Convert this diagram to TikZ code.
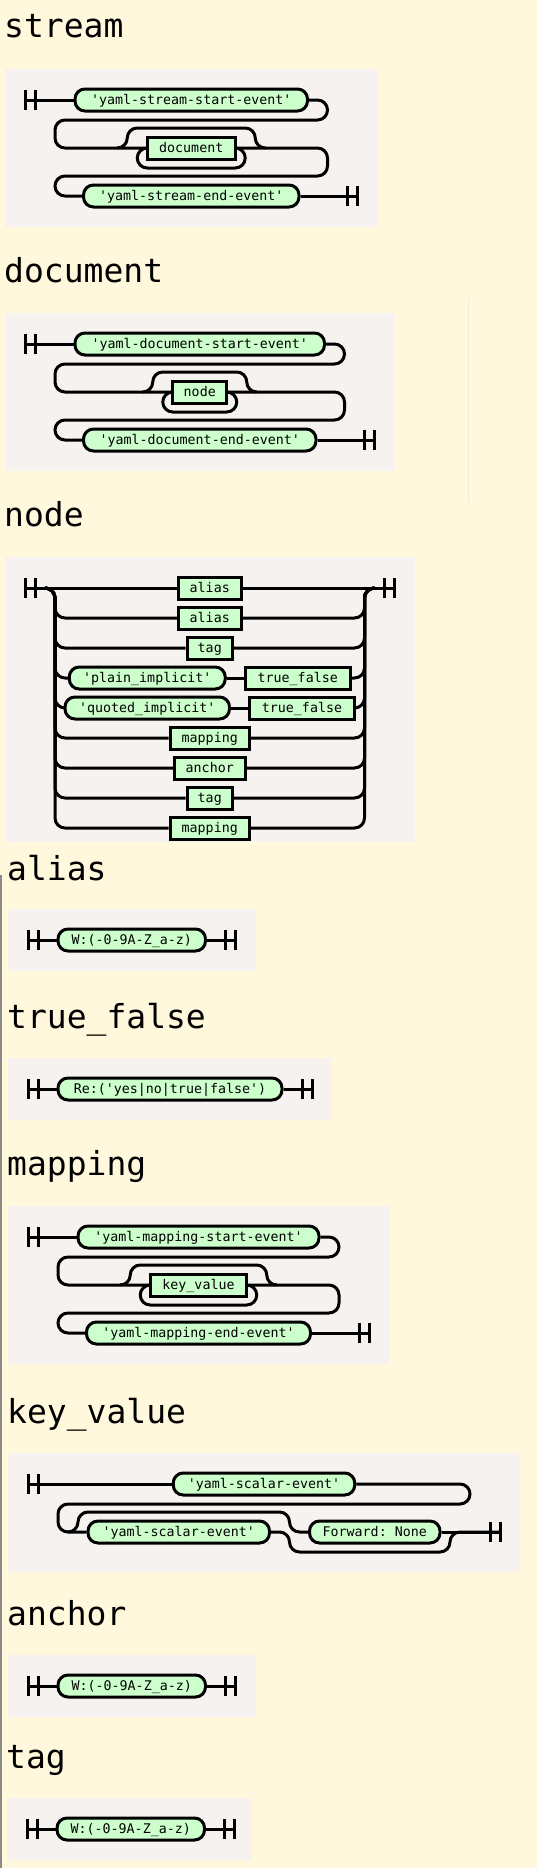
\documentclass[tikz,border=0pt]{standalone}
\usepackage{fontspec}
\setmonofont{DejaVu Sans Mono}
\definecolor{pagebg}{HTML}{FFF8DC}
\definecolor{panelbg}{HTML}{F5F2F0}
\definecolor{termfill}{HTML}{CCFFCC}
\definecolor{edgegray}{HTML}{8C8A84}
\definecolor{faintline}{HTML}{F2EAD2}
\newcommand\rrStart[1]{\draw[ln] (#1) ++(0,-10) -- ++(0,20) ++(10,-20) -- ++(0,20);}
\newcommand\rrEnd[1]{\draw[ln] (#1) ++(-10,-10) -- ++(0,20) ++(10,-20) -- ++(0,20);}
\begin{document}
\begin{tikzpicture}[x=1pt,y=-1pt,
  ln/.style={line width=3pt},
  rr/.style={line width=3pt, rounded corners=10pt},
  rrbox/.style={draw, line width=3pt, fill=termfill, minimum height=22pt, inner sep=0pt,
    text height=10pt, text depth=2pt, font=\ttfamily\fontsize{13.3}{14}\selectfont},
  term/.style={rrbox, rounded corners=10pt},
  nterm/.style={rrbox, sharp corners},
  ttl/.style={anchor=base west, inner sep=0pt, font=\ttfamily\fontsize{33}{36}\selectfont},
  pnl/.style={fill=panelbg}]
\useasboundingbox (0,0) rectangle (537,1868);
\fill[pagebg] (0,0) rectangle (537,1868);
\draw[edgegray, line width=1.5pt] (0.75,875) -- (0.75,1868);
\draw[faintline, line width=1pt] (468,298) -- (468,503);

% ---------------- stream
\fill[pnl] (5,69) rectangle (377.5,227);
\node[ttl] (t1) at (4,38) {stream};
\coordinate (s1) at (25,100);
\coordinate (e1) at (357.5,196);
\node[term, minimum width=232.5pt] (a1) at (191.25,100) {'yaml-stream-start-event'};
\node[nterm, minimum width=88pt] (a2) at (191.25,148) {document};
\node[term, minimum width=215.5pt] (a3) at (191.25,196) {'yaml-stream-end-event'};
\rrStart{s1}
\draw[ln] (s1) -- (a1.west);
\draw[rr] (a1.east) -| (327.5,120) -| (55,148) -- (a2.west);
\draw[rr] (117.25,148) -| (127.25,128) -| (255.25,148) -- (265.25,148);
\draw[rr] (a2.west) -| (137.25,168) -| (245.25,148) -- (a2.east);
\draw[rr] (a2.east) -| (327.5,176) -| (55,196) -- (a3.west);
\draw[ln] (a3.east) -- (e1);
\rrEnd{e1}

% ---------------- document
\fill[pnl] (5,313) rectangle (394.5,471);
\node[ttl] (t2) at (4,282) {document};
\coordinate (s2) at (25,344);
\coordinate (e2) at (374.5,440);
\node[term, minimum width=249.5pt] (b1) at (199.75,344) {'yaml-document-start-event'};
\node[nterm, minimum width=54pt] (b2) at (199.75,392) {node};
\node[term, minimum width=232.5pt] (b3) at (199.75,440) {'yaml-document-end-event'};
\rrStart{s2}
\draw[ln] (s2) -- (b1.west);
\draw[rr] (b1.east) -| (344.5,364) -| (55,392) -- (b2.west);
\draw[rr] (142.75,392) -| (152.75,372) -| (246.75,392) -- (256.75,392);
\draw[rr] (b2.west) -| (162.75,412) -| (236.75,392) -- (b2.east);
\draw[rr] (b2.east) -| (344.5,420) -| (55,440) -- (b3.west);
\draw[ln] (b3.east) -- (e2);
\rrEnd{e2}

% ---------------- node
\fill[pnl] (5,557) rectangle (414.5,842);
\node[ttl] (t3) at (4,526) {node};
\coordinate (s3) at (25,588);
\coordinate (e3) at (394.5,588);
\coordinate (cl) at (45,588);
\coordinate (cr) at (374.5,588);
\node[nterm, minimum width=62.5pt] (c0) at (209.75,588) {alias};
\node[nterm, minimum width=62.5pt] (c1) at (209.75,618) {alias};
\node[nterm, minimum width=45.5pt] (c2) at (209.75,648) {tag};
\node[term, minimum width=156pt] (c3a) at (147.25,678) {'plain\_implicit'};
\node[nterm, minimum width=105pt] (c3b) at (297.75,678) {true\_false};
\node[term, minimum width=164.5pt] (c4a) at (147.25,708) {'quoted\_implicit'};
\node[nterm, minimum width=105pt] (c4b) at (302,708) {true\_false};
\node[nterm, minimum width=79.5pt] (c5) at (209.75,738) {mapping};
\node[nterm, minimum width=71pt] (c6) at (209.75,768) {anchor};
\node[nterm, minimum width=45.5pt] (c7) at (209.75,798) {tag};
\node[nterm, minimum width=79.5pt] (c8) at (209.75,828) {mapping};
\rrStart{s3}
\draw[ln] (s3) -- (c0.west) (c0.east) -- (e3);
\foreach \n/\yy in {c1/618,c2/648,c5/738,c6/768,c7/798,c8/828}{
  \draw[rr] (cl) -| (55,\yy) -- (\n.west);
  \draw[rr] (\n.east) -| (364.5,588) -- (cr);
}
\draw[rr] (cl) -| (55,678) -- (c3a.west);
\draw[ln] (c3a.east) -- (c3b.west);
\draw[rr] (c3b.east) -| (364.5,588) -- (cr);
\draw[rr] (cl) -| (55,708) -- (c4a.west);
\draw[ln] (c4a.east) -- (c4b.west);
\draw[rr] (c4b.east) -| (364.5,588) -- (cr);
\rrEnd{e3}

% ---------------- alias
\fill[pnl] (8,909) rectangle (255.5,971);
\node[ttl] (t4) at (7,880) {alias};
\coordinate (s4) at (28,940);
\coordinate (e4) at (235.5,940);
\node[term, minimum width=147.5pt] (d1) at (131.75,940) {W:(-0-9A-Z\_a-z)};
\rrStart{s4}
\draw[ln] (s4) -- (d1.west) (d1.east) -- (e4);
\rrEnd{e4}

% ---------------- true_false
\fill[pnl] (8,1058) rectangle (332,1120);
\node[ttl] (t5) at (7,1028) {true\_false};
\coordinate (s5) at (28,1089);
\coordinate (e5) at (312,1089);
\node[term, minimum width=224pt] (d2) at (170,1089) {Re:('yes|no|true|false')};
\rrStart{s5}
\draw[ln] (s5) -- (d2.west) (d2.east) -- (e5);
\rrEnd{e5}

% ---------------- mapping
\fill[pnl] (8,1206) rectangle (389,1364);
\node[ttl] (t6) at (7,1175) {mapping};
\coordinate (s6) at (28,1237);
\coordinate (e6) at (369,1333);
\node[term, minimum width=241pt] (f1) at (198.5,1237) {'yaml-mapping-start-event'};
\node[nterm, minimum width=96.5pt] (f2) at (198.5,1285) {key\_value};
\node[term, minimum width=224pt] (f3) at (198.5,1333) {'yaml-mapping-end-event'};
\rrStart{s6}
\draw[ln] (s6) -- (f1.west);
\draw[rr] (f1.east) -| (339,1257) -| (58,1285) -- (f2.west);
\draw[rr] (120.25,1285) -| (130.25,1265) -| (266.75,1285) -- (276.75,1285);
\draw[rr] (f2.west) -| (140.25,1305) -| (256.75,1285) -- (f2.east);
\draw[rr] (f2.east) -| (339,1313) -| (58,1333) -- (f3.west);
\draw[ln] (f3.east) -- (e6);
\rrEnd{e6}

% ---------------- key_value
\fill[pnl] (8,1453) rectangle (520,1572);
\node[ttl] (t7) at (7,1423) {key\_value};
\coordinate (s7) at (28,1484);
\coordinate (e7) at (500,1532);
\node[term, minimum width=181.5pt] (g1) at (264,1484) {'yaml-scalar-event'};
\node[term, minimum width=181.5pt] (g2) at (178.75,1532) {'yaml-scalar-event'};
\node[term, minimum width=130.5pt] (g3) at (374.75,1532) {Forward: None};
\rrStart{s7}
\draw[ln] (s7) -- (g1.west);
\draw[rr] (g1.east) -| (470,1504) -| (58,1532) -- (g2.west);
\draw[rr] (68,1532) -| (78,1512) -| (289.5,1532) -- (g3.west);
\draw[rr] (g2.east) -| (289.5,1552) -| (450,1532) -- (e7);
\draw[ln] (g3.east) -- (e7);
\rrEnd{e7}

% ---------------- anchor
\fill[pnl] (8,1655) rectangle (255.5,1717);
\node[ttl] (t8) at (7,1625) {anchor};
\coordinate (s8) at (28,1686);
\coordinate (e8) at (235.5,1686);
\node[term, minimum width=147.5pt] (h1) at (131.75,1686) {W:(-0-9A-Z\_a-z)};
\rrStart{s8}
\draw[ln] (s8) -- (h1.west) (h1.east) -- (e8);
\rrEnd{e8}

% ---------------- tag
\fill[pnl] (7,1798) rectangle (252,1860);
\node[ttl] (t9) at (6,1768) {tag};
\coordinate (s9) at (27,1829);
\coordinate (e9) at (234.5,1829);
\node[term, minimum width=147.5pt] (h2) at (130.75,1829) {W:(-0-9A-Z\_a-z)};
\rrStart{s9}
\draw[ln] (s9) -- (h2.west) (h2.east) -- (e9);
\rrEnd{e9}
\end{tikzpicture}
\end{document}
